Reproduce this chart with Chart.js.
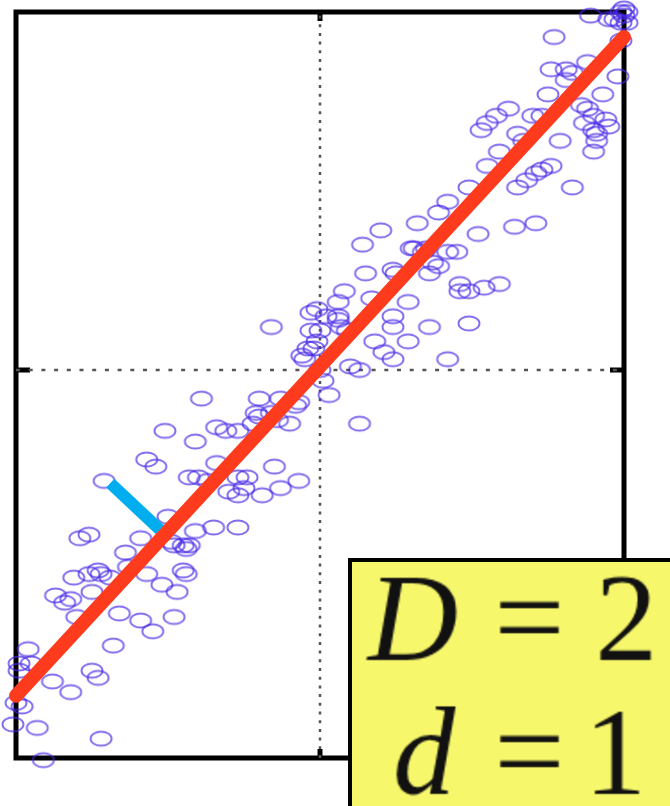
<!DOCTYPE html>
<html>
<head>
<meta charset="utf-8">
<script src="https://cdn.jsdelivr.net/npm/chart.js@4.4.0/dist/chart.umd.min.js"></script>
<style>
  html, body { margin: 0; padding: 0; background: #fff; }
  canvas { display: block; }
</style>
</head>
<body>
<canvas id="chart" width="670" height="806"></canvas>
<script>
// scattered samples
const sampleX = [
  -0.44, -0.52, -0.47, -0.48, -0.55, -0.59, -0.66, -0.68, -0.75, -0.73,
  -0.82, -0.88, -0.96, -0.95, -0.98, -1.01, -0.93, -0.72, -0.91, -1.00,
  -0.87, -0.84, -0.82, -0.81, -0.76, -0.72, -0.69, -0.75, -0.57, -0.80,
  -0.63, -0.43, -0.48, -0.64, -0.79, -0.73, -0.45, -0.59, -0.49, -0.45,
  -0.44, -0.76, -0.50, -0.41, -0.35, -0.27, -0.71, -0.57, -0.54, -0.51,
  -0.41, -0.39, -0.43, -0.40, -0.37, -0.27, -0.24, -0.30, -0.27, -0.25,
  -0.34, -0.34, -0.31, -0.27, -0.21, -0.22, -0.20, -0.13, -0.08, -0.10,
  -0.15, -0.19, -0.13, -0.07, -0.20, -0.16, -0.14, -0.07, -0.16, -0.03,
  0.00, -0.02, -0.06, 0.00, -0.04, -0.05, 0.01, 0.03, 0.13, 0.14,
  0.31, 0.35, 0.42, 0.45, 0.39, 0.36, 0.25, 0.15, 0.46, 0.49,
  0.54, 0.59, 0.08, 0.06, 0.17, 0.29, -0.01, 0.02, 0.06, 0.24,
  0.07, 0.09, -0.03, -0.01, 0.24, 0.36, 0.49, 0.18, 0.21, 0.24,
  0.29, 0.42, 0.10, 0.13, 0.06, 0.75, 0.62, 0.58, 0.55, 0.53,
  0.70, 0.73, 0.86, 0.88, 0.65, 0.67, 0.79, 0.87, 0.90, 0.91,
  0.59, 0.90, 0.55, 0.73, 0.76, 0.71, 0.68, 0.65, 0.83, 0.49,
  0.42, 0.39, 0.32, 0.52, 0.64, 0.71, 0.30, 0.34, 0.37, 0.24,
  0.46, 0.20, 0.89, 0.95, 0.99, 1.01, 0.77, 0.76, 0.81, 0.83,
  0.81, 0.98, 0.94, 0.95, 0.91, 0.90, 0.99, 0.93, 1.00, 0.97,
  0.88, 1.00, 0.99, 1.01, -0.99, -0.99
];
const sampleY = [
  -0.57, -0.60, -0.62, -0.69, -0.73, -0.70, -0.68, -0.77, -0.84, -0.86,
  -0.90, -0.87, -0.78, -0.82, -0.94, -0.99, -1.00, -1.03, -1.09, -0.93,
  -0.63, -0.65, -0.64, -0.58, -0.57, -0.57, -0.58, -0.62, -0.57, -0.69,
  -0.55, -0.49, -0.49, -0.51, -0.47, -0.56, -0.56, -0.47, -0.48, -0.49,
  -0.50, -0.46, -0.41, -0.45, -0.44, -0.44, -0.31, -0.25, -0.27, -0.17,
  -0.20, -0.08, -0.30, -0.30, -0.31, -0.30, -0.30, -0.34, -0.35, -0.33,
  -0.26, -0.16, -0.17, -0.17, -0.12, -0.15, -0.08, -0.08, -0.10, -0.15,
  -0.27, -0.35, -0.33, -0.31, -0.13, -0.12, -0.14, -0.09, 0.12, 0.16,
  0.11, 0.06, 0.04, 0.00, 0.06, 0.03, -0.03, -0.07, -0.15, 0.35,
  0.34, 0.34, 0.33, 0.33, 0.29, 0.27, 0.27, 0.27, 0.22, 0.22,
  0.23, 0.24, 0.22, 0.19, 0.20, 0.19, 0.17, 0.15, 0.15, 0.15,
  0.12, 0.11, 0.11, 0.08, 0.12, 0.12, 0.13, 0.08, 0.05, 0.03,
  0.08, 0.03, 0.01, 0.00, 0.14, 0.77, 0.73, 0.71, 0.69, 0.67,
  0.71, 0.71, 0.74, 0.73, 0.66, 0.64, 0.64, 0.69, 0.67, 0.64,
  0.61, 0.61, 0.57, 0.56, 0.57, 0.55, 0.53, 0.51, 0.51, 0.51,
  0.47, 0.44, 0.41, 0.38, 0.40, 0.41, 0.34, 0.33, 0.30, 0.28,
  0.24, 0.39, 0.99, 0.98, 1.00, 0.97, 0.93, 0.84, 0.84, 0.83,
  0.81, 0.82, 0.70, 0.68, 0.66, 0.71, 0.92, 0.77, 1.01, 0.98,
  0.86, 0.99, 0.97, 1.00, -0.82, -0.84
];

// fitted principal direction and one residual
const fitX = [-1, 1];
const fitY = [-0.91, 0.93];
const residualX = [-0.69, -0.526];
const residualY = [-0.316, -0.447];

const axisX = [-1, 1];
const axisY = [-1.084, 1];

const labelLines = [['D', '2'], ['d', '1']];

const zip = (xs, ys) => xs.map((x, i) => ({x, y: ys[i]}));

// open ellipse marker (the source picture is stretched sideways)
const makeMarker = () => {
  const c = document.createElement('canvas');
  c.width = 26;
  c.height = 19;
  const g = c.getContext('2d');
  g.strokeStyle = 'rgba(70,40,230,0.68)';
  g.lineWidth = 1.9;
  g.beginPath();
  g.ellipse(13, 9.5, 10.5, 7, 0, 0, Math.PI * 2);
  g.stroke();
  return c;
};

const framePlugin = {
  id: 'frame',
  beforeDatasetsDraw(chart) {
    const {ctx, chartArea: a, scales} = chart;
    const cx = scales.x.getPixelForValue(0);
    const cy = scales.y.getPixelForValue(0);
    ctx.save();
    ctx.strokeStyle = '#000';
    ctx.lineWidth = 5;
    ctx.strokeRect(a.left, a.top, a.right - a.left, a.bottom - a.top);
    // zero ticks on each side
    ctx.beginPath();
    ctx.moveTo(cx, a.top); ctx.lineTo(cx, a.top + 9);
    ctx.moveTo(cx, a.bottom); ctx.lineTo(cx, a.bottom - 9);
    ctx.moveTo(a.left, cy); ctx.lineTo(a.left + 14, cy);
    ctx.moveTo(a.right, cy); ctx.lineTo(a.right - 14, cy);
    ctx.stroke();
    ctx.restore();
  }
};

// the serif face falls back to a sans one at big sizes in this browser,
// so the label is set at 70px on a side canvas and scaled into the box
const BOX = {x: 350, y: 560, w: 330, h: 250};
const K = 125 / 70;
const renderLabel = () => {
  const off = document.createElement('canvas');
  off.width = Math.ceil(BOX.w / K);
  off.height = Math.ceil(BOX.h / K);
  const g = off.getContext('2d');
  g.fillStyle = '#111';
  g.textBaseline = 'alphabetic';
  const rows = [{y: 660, xs: [368, 494, 595]}, {y: 794, xs: [393, 494, 584]}];
  const put = (str, x, y, italic) => {
    g.font = (italic ? 'italic ' : '') + '70px "Liberation Serif"';
    g.fillText(str, (x - BOX.x) / K, (y - BOX.y) / K);
  };
  labelLines.forEach((parts, i) => {
    const r = rows[i];
    put(parts[0], r.xs[0], r.y, true);
    put('=', r.xs[1], r.y, false);
    put(parts[1], r.xs[2], r.y, false);
  });
  return off;
};

const labelPlugin = {
  id: 'labelBox',
  afterDraw(chart) {
    const {ctx} = chart;
    ctx.save();
    ctx.fillStyle = '#f7f76b';
    ctx.fillRect(BOX.x, BOX.y, BOX.w, BOX.h);
    ctx.strokeStyle = '#000';
    ctx.lineWidth = 4;
    ctx.strokeRect(BOX.x, BOX.y, BOX.w, BOX.h);
    ctx.imageSmoothingEnabled = true;
    ctx.imageSmoothingQuality = 'high';
    const off = renderLabel();
    ctx.drawImage(off, BOX.x, BOX.y, off.width * K, off.height * K);
    ctx.restore();
  }
};

new Chart(document.getElementById('chart'), {
  type: 'scatter',
  data: {
    datasets: [
      {
        label: 'fit',
        data: zip(fitX, fitY),
        showLine: true,
        borderColor: '#ff3b1d',
        borderWidth: 14,
        borderCapStyle: 'round',
        pointRadius: 0,
        clip: false,
        order: 0
      },
      {
        label: 'residual',
        data: zip(residualX, residualY),
        showLine: true,
        borderColor: '#00aeef',
        borderWidth: 12,
        pointRadius: 0,
        clip: false,
        order: 1
      },
      {
        label: 'samples',
        data: zip(sampleX, sampleY),
        pointStyle: makeMarker(),
        clip: false,
        order: 2
      },
      {
        label: 'zero-y',
        data: zip(axisX, [0, 0]),
        showLine: true,
        borderColor: '#555',
        borderWidth: 2.5,
        borderDash: [4, 8.7],
        pointRadius: 0,
        order: 3
      },
      {
        label: 'zero-x',
        data: zip([0, 0], axisY),
        showLine: true,
        borderColor: '#555',
        borderWidth: 2.5,
        borderDash: [3, 5.7],
        pointRadius: 0,
        order: 3
      }
    ]
  },
  options: {
    responsive: false,
    animation: false,
    devicePixelRatio: 1,
    layout: {padding: {left: 16, right: 46, top: 12, bottom: 48}},
    plugins: {legend: {display: false}, tooltip: {enabled: false}},
    scales: {
      x: {type: 'linear', min: axisX[0], max: axisX[1], display: false},
      y: {type: 'linear', min: axisY[0], max: axisY[1], display: false}
    }
  },
  plugins: [framePlugin, labelPlugin]
});
</script>
</body>
</html>
